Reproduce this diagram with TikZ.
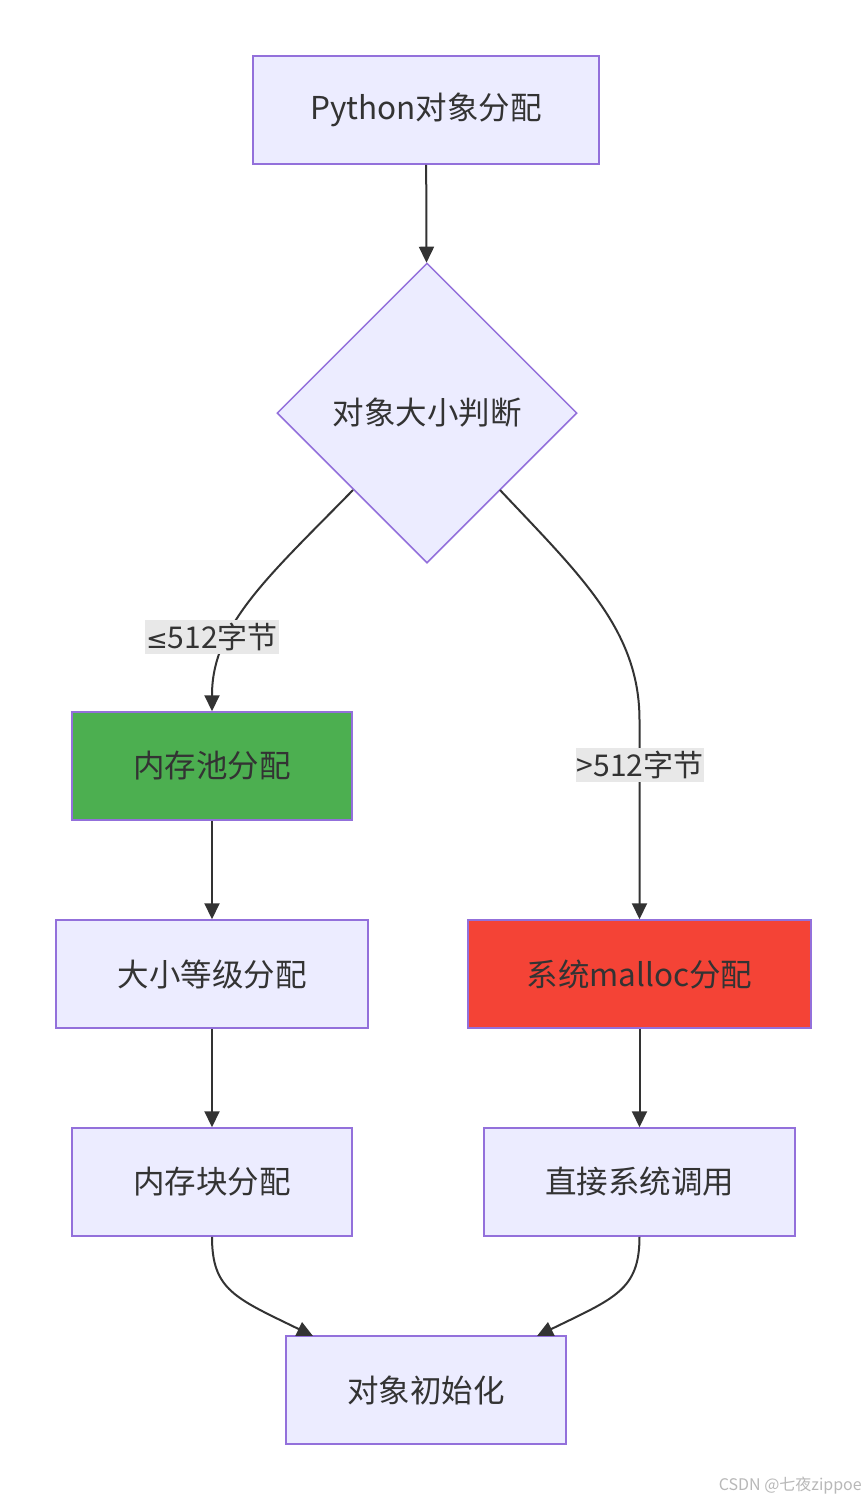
\documentclass[tikz,border=0pt]{standalone}
\usepackage{fontspec}
\setmainfont{Noto Sans CJK SC}
\newfontfamily\symfont{DejaVu Sans}
\usetikzlibrary{arrows.meta,shapes.geometric}
\definecolor{nodefill}{HTML}{ECECFF}
\definecolor{nodeline}{HTML}{9370DB}
\definecolor{txt}{HTML}{333333}
\definecolor{edge}{HTML}{333333}
\definecolor{lblbg}{HTML}{E8E8E8}
\definecolor{greenfill}{HTML}{4CAF50}
\definecolor{redfill}{HTML}{F44336}
\begin{document}
\begin{tikzpicture}[x=1pt,y=-1pt,
  box/.style={draw=nodeline,fill=nodefill,line width=1.5pt,minimum height=108pt,inner sep=0pt,text=txt,font=\fontsize{31.5}{36}\selectfont},
  decision/.style={diamond,draw=nodeline,fill=nodefill,line width=1.5pt,minimum width=300pt,minimum height=300pt,inner sep=0pt,text=txt,font=\fontsize{31.5}{36}\selectfont},
  conn/.style={draw=edge,line width=2pt,-{Triangle[length=16pt,width=15pt]}},
  lbl/.style={fill=lblbg,text=txt,inner xsep=1pt,inner ysep=3pt,font=\fontsize{30}{34}\selectfont}
]
\useasboundingbox (0,0) rectangle (867,1500);
\fill[white] (0,0) rectangle (867,1500);

\node[box,minimum width=346pt] (start) at (426,110) {Python对象分配};
\node[decision] (dec) at (427,413) {对象大小判断};
\node[box,minimum width=280pt,fill=greenfill] (pool) at (212,766) {内存池分配};
\node[box,minimum width=312pt] (size) at (212,974) {大小等级分配};
\node[box,minimum width=280pt] (block) at (212,1182) {内存块分配};
\node[box,minimum width=343pt,fill=redfill] (malloc) at (639.5,974) {系统malloc分配};
\node[box,minimum width=311pt] (sys) at (639.5,1182) {直接系统调用};
\node[box,minimum width=280pt] (init) at (426,1390) {对象初始化};

\coordinate (dl) at (353,490);
\coordinate (dr) at (500,490);
\coordinate (b1) at (313,1336);
\coordinate (b2) at (537,1336);

\draw[conn] (start) -- (dec);
\draw[conn] (dl) .. controls (270,575) and (212,625) .. (212,695) -- (pool.north);
\draw[conn] (dr) .. controls (580,575) and (639.5,630) .. (639.5,720) -- (malloc.north);
\draw[conn] (pool) -- (size);
\draw[conn] (size) -- (block);
\draw[conn] (malloc) -- (sys);
\draw[conn] (block.south) .. controls (212,1290) and (235,1298) .. (b1);
\draw[conn] (sys.south) .. controls (639.5,1290) and (615,1298) .. (b2);

\node[lbl] (l1) at (212,637) {{\symfont\fontsize{26}{30}\selectfont ≤}512字节};
\node[lbl] (l2) at (640,765) {>512字节};

\node[anchor=south east,text=black!28,inner sep=0pt,font=\fontsize{16}{18}\selectfont] (wm) at (862,1494) {CSDN @七夜zippoe};
\end{tikzpicture}
\end{document}
